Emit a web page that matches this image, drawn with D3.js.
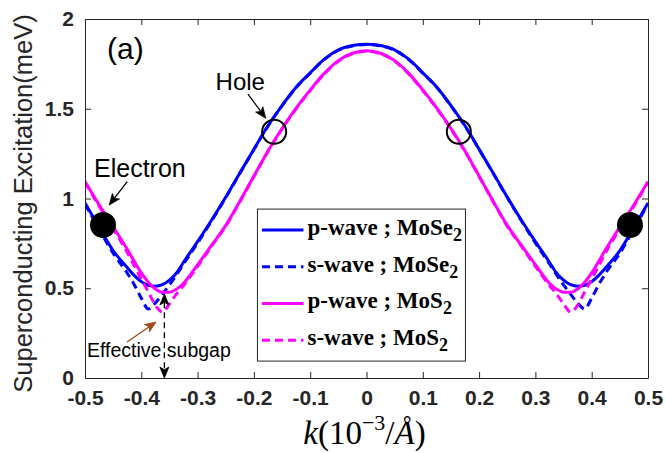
<!DOCTYPE html>
<html><head><meta charset="utf-8">
<script src="https://cdn.jsdelivr.net/npm/d3@7"></script>
<style>body{margin:0;background:#fff}svg{display:block}</style>
</head><body>
<svg id="chart" width="665" height="453"></svg>
<script>
// ---- data ----
const kGrid = [-0.5,-0.475,-0.45,-0.425,-0.4125,-0.4,-0.3875,-0.375,-0.3625,-0.35,-0.3375,-0.325,-0.3,-0.275,-0.25,-0.225,-0.2,-0.175,-0.15,-0.125,-0.1,-0.075,-0.05,-0.025,0,
  0.025,0.05,0.075,0.1,0.125,0.15,0.175,0.2,0.225,0.25,0.275,0.3,0.325,0.3375,0.35,0.3625,0.375,0.3875,0.4,0.4125,0.425,0.45,0.475,0.5];
const pWaveMoSe2 = [0.975,0.840,0.710,0.615,0.572,0.537,0.517,0.511,0.520,0.545,0.585,0.645,0.760,0.880,1.008,1.142,1.275,1.405,1.518,1.620,1.700,1.776,1.828,1.852,1.860,
  1.852,1.828,1.776,1.700,1.620,1.518,1.405,1.275,1.142,1.008,0.880,0.760,0.645,0.585,0.545,0.520,0.511,0.517,0.537,0.572,0.615,0.710,0.840,0.975];
const sWaveMoSe2 = [0.970,0.830,0.695,0.585,0.520,0.445,0.385,0.418,0.467,0.519,0.575,0.635,0.752,0.876,1.005,1.140,1.273,1.403,1.516,1.618,1.698,1.774,1.826,1.850,1.858,
  1.850,1.826,1.774,1.698,1.618,1.516,1.403,1.273,1.140,1.005,0.876,0.752,0.635,0.575,0.519,0.467,0.418,0.385,0.445,0.520,0.585,0.695,0.830,0.970];
const pWaveMoS2 = [1.094,0.965,0.842,0.717,0.650,0.586,0.534,0.496,0.478,0.478,0.495,0.528,0.631,0.740,0.850,0.985,1.125,1.265,1.390,1.503,1.605,1.697,1.768,1.809,1.823,
  1.809,1.768,1.697,1.605,1.503,1.390,1.265,1.125,0.985,0.850,0.740,0.631,0.528,0.495,0.478,0.478,0.496,0.534,0.586,0.650,0.717,0.842,0.965,1.094];
const sWaveMoS2 = [1.090,0.958,0.832,0.700,0.625,0.552,0.480,0.405,0.368,0.413,0.468,0.515,0.622,0.735,0.846,0.982,1.122,1.262,1.387,1.500,1.602,1.694,1.765,1.806,1.820,
  1.806,1.765,1.694,1.602,1.500,1.387,1.262,1.122,0.982,0.846,0.735,0.622,0.515,0.468,0.413,0.368,0.405,0.480,0.552,0.625,0.700,0.832,0.958,1.090];
const seriesNames = ["p-wave ; MoSe", "s-wave ; MoSe", "p-wave ; MoS", "s-wave ; MoS"];
const xTicks = [-0.5,-0.4,-0.3,-0.2,-0.1,0,0.1,0.2,0.3,0.4,0.5];
const yTicks = [0,0.5,1,1.5,2];
const electronK = [-0.468, 0.468];
const electronE = [0.852, 0.852];
const holeK = [-0.164, 0.164];
const holeE = [1.372, 1.372];

// ---- layout ----
const W = 665, H = 453;
const m = {l:85, r:17, t:19, b:75};
const svg = d3.select("#chart");
const x = d3.scaleLinear().domain([-0.5,0.5]).range([m.l, W-m.r]);
const y = d3.scaleLinear().domain([0,2]).range([H-m.b, m.t]);
const axisCol = "#262626";

const styles = [
  {data:pWaveMoSe2, color:"#0000ff", dash:null},
  {data:sWaveMoSe2, color:"#0000ff", dash:"8,5"},
  {data:pWaveMoS2, color:"#ff00ff", dash:null},
  {data:sWaveMoS2, color:"#ff00ff", dash:"8,5"}
];

svg.append("defs").append("clipPath").attr("id","clip").append("rect")
  .attr("x",m.l).attr("y",m.t).attr("width",W-m.l-m.r).attr("height",H-m.t-m.b);

const line = d3.line().x((d,i)=>x(kGrid[i])).y(d=>y(d)).curve(d3.curveMonotoneX);
const g = svg.append("g").attr("clip-path","url(#clip)");
styles.forEach(s=>{
  g.append("path").attr("d", line(s.data)).attr("fill","none")
   .attr("stroke", s.color).attr("stroke-width", 3)
   .attr("stroke-dasharray", s.dash);
});

// axes
const fmt = d => String(d);
const ax = svg.append("g").attr("transform",`translate(0,${H-m.b})`)
  .call(d3.axisBottom(x).tickValues(xTicks).tickFormat(fmt).tickSizeInner(-6).tickSizeOuter(0).tickPadding(12));
const axT = svg.append("g").attr("transform",`translate(0,${m.t})`)
  .call(d3.axisTop(x).tickValues(xTicks).tickFormat("").tickSizeInner(-6).tickSizeOuter(0));
const ay = svg.append("g").attr("transform",`translate(${m.l},0)`)
  .call(d3.axisLeft(y).tickValues(yTicks).tickFormat(fmt).tickSizeInner(-6).tickSizeOuter(0).tickPadding(11));
const ayR = svg.append("g").attr("transform",`translate(${W-m.r},0)`)
  .call(d3.axisRight(y).tickValues(yTicks).tickFormat("").tickSizeInner(-6).tickSizeOuter(0));
[ax,axT,ay,ayR].forEach(a=>{
  a.selectAll("path,line").attr("stroke",axisCol).attr("stroke-width",1);
  a.selectAll("text").attr("fill",axisCol).attr("font-family","'Liberation Sans',Arial,sans-serif")
   .attr("font-size",21).attr("font-weight","bold");
});

// axis titles
svg.append("text").attr("transform",`translate(32,${(m.t+H-m.b)/2+5}) rotate(-90)`)
  .attr("text-anchor","middle").attr("font-family","'Liberation Sans',Arial,sans-serif")
  .attr("font-size",25.5).attr("fill",axisCol).text("Superconducting Excitation(meV)");
const xl = svg.append("text").attr("x",(m.l+W-m.r)/2-2).attr("y",444)
  .attr("text-anchor","middle").attr("font-family","'Liberation Serif','Times New Roman',serif")
  .attr("font-size",33).attr("fill","#000");
xl.append("tspan").attr("font-style","italic").text("k");
xl.append("tspan").text("(10");
xl.append("tspan").attr("font-size",22).attr("dy",-14).text("−3");
xl.append("tspan").attr("dy",14).text("/");
xl.append("tspan").attr("font-style","italic").text("Å");
xl.append("tspan").text(")");

// markers
svg.selectAll("circle.el").data(electronK).join("circle").attr("class","el")
  .attr("cx",d=>x(d)).attr("cy",(d,i)=>y(electronE[i])).attr("r",13).attr("fill","#000");
svg.selectAll("circle.ho").data(holeK).join("circle").attr("class","ho")
  .attr("cx",d=>x(d)).attr("cy",(d,i)=>y(holeE[i])).attr("r",12)
  .attr("fill","none").attr("stroke","#000").attr("stroke-width",2);

// annotations (data coords)
const sans = "'Liberation Sans',Arial,sans-serif";
function txt(k,e,s,size){ svg.append("text").attr("x",x(k)).attr("y",y(e)).attr("font-family",sans)
  .attr("font-size",size).attr("fill","#000").text(s); }
txt(-0.461,1.777,"(a)",30);
txt(-0.484,1.121,"Electron",25);
txt(-0.268,1.604,"Hole",24);
txt(-0.4965,0.117,"Effective subgap",19.5);

function head(x1,y1,x2,y2,color,len,hw){
  const a = Math.atan2(y2-y1,x2-x1), c=Math.cos(a), s=Math.sin(a);
  const bx = x2-len*c, by = y2-len*s, nx = x2-len*0.75*c, ny = y2-len*0.75*s;
  svg.append("path").attr("d",`M${x2},${y2}L${bx - hw*s},${by + hw*c}L${nx},${ny}L${bx + hw*s},${by - hw*c}Z`)
    .attr("fill",color).attr("stroke",color).attr("stroke-width",0.8);
  return [nx,ny];
}
function arrow(k1,e1,k2,e2,color,dash){
  const x1=x(k1),y1=y(e1),x2=x(k2),y2=y(e2);
  const [nx,ny] = head(x1,y1,x2,y2,color,11,4.5);
  svg.append("line").attr("x1",x1).attr("y1",y1).attr("x2",nx).attr("y2",ny)
    .attr("stroke",color).attr("stroke-width",1.3).attr("stroke-dasharray",dash||null);
}
arrow(-0.425,1.094,-0.457,0.964,"#000");
arrow(-0.2105,1.582,-0.179,1.447,"#000");
arrow(-0.4254,0.2006,-0.3739,0.312,"#a0471a");
// double arrow for effective subgap
{
  const xx = x(-0.359), yt = y(0.468), yb = y(0.0);
  const [, n1] = head(xx, (yt+yb)/2, xx, yt, "#000", 11, 4.5);
  const [, n2] = head(xx, (yt+yb)/2, xx, yb, "#000", 11, 4.5);
  svg.append("line").attr("x1",xx).attr("x2",xx).attr("y1",n1).attr("y2",n2)
    .attr("stroke","#000").attr("stroke-width",1.3).attr("stroke-dasharray","6,4");
}

// legend
const lg = svg.append("g");
const lx = x(-0.1937), ly = y(0.941);
lg.append("rect").attr("x",lx).attr("y",ly).attr("width",208).attr("height",152)
  .attr("fill","#fff").attr("stroke",axisCol).attr("stroke-width",1);
seriesNames.forEach((n,i)=>{
  const yy = ly + 21 + i*36.7;
  lg.append("line").attr("x1",lx+4.5).attr("x2",lx+46).attr("y1",yy).attr("y2",yy)
    .attr("stroke",styles[i].color).attr("stroke-width",3).attr("stroke-dasharray",styles[i].dash);
  const t = lg.append("text").attr("x",lx+50).attr("y",yy+5).attr("font-family","'Liberation Serif','Times New Roman',serif")
    .attr("font-weight","bold").attr("font-size",23).attr("fill","#000");
  t.append("tspan").text(n);
  t.append("tspan").attr("font-size",18).attr("dy",6).text("2");
});
</script>
</body></html>
